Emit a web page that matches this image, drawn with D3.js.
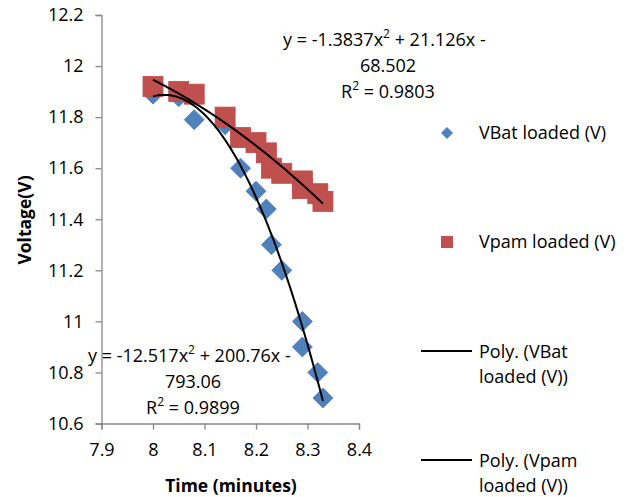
<!DOCTYPE html>
<html><head><meta charset="utf-8">
<script src="https://cdn.jsdelivr.net/npm/d3@7"></script>
<style>body{margin:0;background:#fff}svg{display:block}text{font-family:"Open Sans",Lato,sans-serif}</style>
</head><body><svg id="c" width="635" height="497"></svg>
<script>
const timeMin = [8, 8.05, 8.08, 8.14, 8.17, 8.2, 8.22, 8.23, 8.25, 8.29, 8.29, 8.32, 8.33];
const vbat = [11.89, 11.88, 11.79, 11.77, 11.6, 11.51, 11.44, 11.3, 11.2, 11.0, 10.9, 10.8, 10.7];
const vpam = [11.92, 11.9, 11.89, 11.8, 11.72, 11.7, 11.66, 11.6, 11.58, 11.55, 11.52, 11.5, 11.47];
const xTicks = [7.9, 8, 8.1, 8.2, 8.3, 8.4];
const yTicks = [10.6, 10.8, 11, 11.2, 11.4, 11.6, 11.8, 12, 12.2];
const eqBat = [["y = -12.517x", "2", " + 200.76x -"], ["793.06"], ["R", "2", " = 0.9899"]];
const eqPam = [["y = -1.3837x", "2", " + 21.126x -"], ["68.502"], ["R", "2", " = 0.9803"]];
const legendItems = [["VBat loaded (V)"], ["Vpam loaded (V)"], ["Poly. (VBat", "loaded (V))"], ["Poly. (Vpam", "loaded (V))"]];

const svg = d3.select("#c");
const x = d3.scaleLinear().domain([7.9, 8.4]).range([101.5, 359]);
const y = d3.scaleLinear().domain([10.6, 12.2]).range([423.5, 15]);
const axisCol = "#868686";
const fs = 18;

function fit2(xs, ys) {
  const m = d3.mean(xs);
  let S = [0,0,0,0,0], T = [0,0,0];
  xs.forEach((xv, i) => { const t = xv - m; for (let k=0;k<5;k++) S[k]+=Math.pow(t,k); for (let k=0;k<3;k++) T[k]+=ys[i]*Math.pow(t,k); });
  const A = [[S[0],S[1],S[2],T[0]],[S[1],S[2],S[3],T[1]],[S[2],S[3],S[4],T[2]]];
  for (let i=0;i<3;i++){ for (let j=i+1;j<3;j++){ const f=A[j][i]/A[i][i]; for(let k=i;k<4;k++) A[j][k]-=f*A[i][k]; } }
  const c=[0,0,0];
  for (let i=2;i>=0;i--){ let s=A[i][3]; for(let k=i+1;k<3;k++) s-=A[i][k]*c[k]; c[i]=s/A[i][i]; }
  return v => c[0] + c[1]*(v-m) + c[2]*(v-m)*(v-m);
}

// axes
const gx = svg.append("g").attr("transform", `translate(0,${y(10.6)})`)
  .call(d3.axisBottom(x).tickValues(xTicks).tickSize(6).tickPadding(10).tickFormat(d3.format("")));
const gy = svg.append("g").attr("transform", `translate(${x(7.9)},0)`)
  .call(d3.axisLeft(y).tickValues(yTicks).tickSize(6).tickPadding(12).tickFormat(d3.format("")));
[gx, gy].forEach(g => {
  g.select(".domain").attr("stroke", axisCol).attr("stroke-width", 1.3);
  g.selectAll(".tick line").attr("stroke", axisCol).attr("stroke-width", 1.3);
  g.selectAll("text").attr("font-size", fs).attr("fill", "#000").attr("font-family", '"Open Sans",sans-serif');
});
gx.selectAll("text").attr("dy", "0.9em");

// axis titles
svg.append("text").attr("x", 231).attr("y", 492).attr("text-anchor", "middle")
  .attr("font-weight", "bold").attr("font-size", 17.5).text("Time (minutes)");
svg.append("text").attr("transform", `translate(31,220) rotate(-90)`).attr("text-anchor", "middle")
  .attr("font-weight", "bold").attr("font-size", 17.5).text("Voltage(V)");

const pts = timeMin.map((t, i) => ({t, b: vbat[i], p: vpam[i]}));
const diamond = s => `M0,${-s}L${s},0L0,${s}L${-s},0Z`;

svg.append("g").selectAll("path").data(pts).join("path")
  .attr("transform", d => `translate(${x(d.t)},${y(d.b)})`)
  .attr("d", diamond(10)).attr("fill", "#4F81BD").attr("stroke", "#4A7EBB").attr("stroke-width", 0.8);
svg.append("g").selectAll("rect").data(pts).join("rect")
  .attr("x", d => x(d.t) - 10).attr("y", d => y(d.p) - 10).attr("width", 20).attr("height", 20)
  .attr("fill", "#C0504D").attr("stroke", "#BE4B48").attr("stroke-width", 0.8);

// trendlines
const xs0 = d3.range(0, 101).map(i => d3.min(timeMin) + (d3.max(timeMin) - d3.min(timeMin)) * i / 100);
[vbat, vpam].forEach(vals => {
  const f = fit2(timeMin, vals);
  svg.append("path").datum(xs0).attr("fill", "none").attr("stroke", "#000").attr("stroke-width", 2)
    .attr("d", d3.line().x(d => x(d)).y(d => y(f(d))));
});

// equations
function eq(lines, cx, cy0, x0) {
  lines.forEach((parts, i) => {
    const t = svg.append("text").attr("font-size", fs).attr("y", cy0 + i * 26).attr("dy", "0.35em");
    parts.forEach((p, k) => {
      const sp = t.append("tspan").text(p);
      if (parts.length === 3 && k === 1) sp.attr("font-size", 12).attr("baseline-shift", "super");
    });
    if (i === 0) t.attr("x", x0); else t.attr("x", cx).attr("text-anchor", "middle");
  });
}
eq(eqPam, 388, 40, 283);
eq(eqBat, 193, 356, 88);

// legend
const lg = svg.append("g");
const ly = [133, 242, 352, 461];
legendItems.forEach((lines, i) => {
  if (i === 0) lg.append("path").attr("transform", `translate(447,${ly[i]})`).attr("d", diamond(6)).attr("fill", "#4F81BD");
  else if (i === 1) lg.append("rect").attr("x", 441).attr("y", ly[i] - 6).attr("width", 12).attr("height", 12).attr("fill", "#C0504D");
  else lg.append("line").attr("x1", 421).attr("x2", 472).attr("y1", ly[i]-1).attr("y2", ly[i]-1).attr("stroke", "#000").attr("stroke-width", 2);
  lines.forEach((l, j) => lg.append("text").attr("x", 479).attr("y", ly[i] + j * 25).attr("dy", "0.35em").attr("font-size", fs).text(l));
});
</script></body></html>
